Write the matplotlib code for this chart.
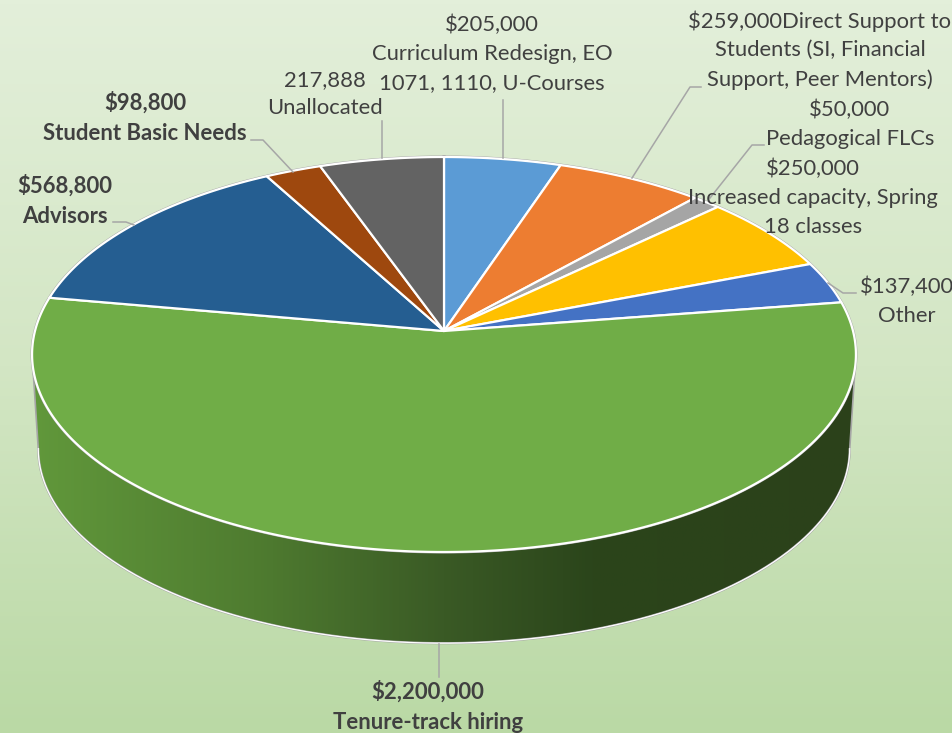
import numpy as np
import matplotlib
matplotlib.use("Agg")
import matplotlib.pyplot as plt
from matplotlib.colors import LinearSegmentedColormap
from matplotlib.patches import Polygon

names = ["Curriculum Redesign", "Direct Support", "Pedagogical FLCs", "Increased capacity",
         "Other", "Tenure-track hiring", "Advisors", "Student Basic Needs", "Unallocated"]
values = [205000, 259000, 50000, 250000, 137400, 2200000, 568800, 98800, 217888]
colors = ["#5B9BD5", "#ED7D31", "#A5A5A5", "#FFC000", "#4472C4", "#70AD47", "#255E91", "#9E480E", "#636363"]

labels = [
    ("$205,000\nCurriculum Redesign, EO\n1071, 1110, U-Courses", 492, 54, False),
    ("$259,000Direct Support to\nStudents (SI, Financial\nSupport, Peer Mentors)", 820, 50, False),
    ("$50,000\nPedagogical FLCs", 850, 124, False),
    ("$250,000\nIncreased capacity, Spring\n18 classes", 813, 198, False),
    ("$137,400\nOther", 907, 301, False),
    ("$2,200,000\nTenure-track hiring", 428, 707, True),
    ("$568,800\nAdvisors", 65, 201, True),
    ("$98,800\nStudent Basic Needs", 145, 118, True),
    ("217,888\nUnallocated", 325, 94, False),
]
leaders = [
    ([503, 503], [100, 158]),
    ([632, 690, 701], [178, 87, 87]),
    ([710, 752, 764], [198, 145, 145]),
    ([828, 843, 856], [283, 293, 293]),
    ([439, 439], [644, 677]),
    ([113, 126, 134], [222, 222, 225]),
    ([251, 263, 293], [140, 140, 172]),
    ([382, 382], [121, 158]),
]

W, H = 953, 733
fig = plt.figure(figsize=(W / 100, H / 100), dpi=100)
ax = fig.add_axes([0, 0, 1, 1])

# background gradient
bg = LinearSegmentedColormap.from_list("bg", ["#E3EFDA", "#D3E6C4", "#BAD9A5"])
gy, gx = np.mgrid[0:1:200j, 0:1:200j]
ax.imshow(np.clip(gy, 0, 1), cmap=bg, vmin=0, vmax=1,
          extent=[0, W, H, 0], aspect="auto", zorder=0)

# perspective projection of a unit disc
CX, CY_TOP, CY_BOT, A, B, K, SCALE_BOT = 444, 331, 425.5, 409, 194.7, 0.119, 0.985


def project(theta, r=1.0, bottom=False):
    u, v = r * np.sin(theta), r * np.cos(theta)
    s = 1 / (1 + K * v)
    if bottom:
        return CX + SCALE_BOT * A * u * s, CY_BOT - SCALE_BOT * B * v * s
    return CX + A * u * s, CY_TOP - B * v * s


# side wall, front part between the horizontal tangent points
t0 = np.arccos(-K)
front = np.linspace(t0, 2 * np.pi - t0, 400)
tx, ty = project(front)
bx, by = project(front, bottom=True)
side_xy = np.column_stack([np.r_[tx, bx[::-1]], np.r_[ty, by[::-1]]])
side = Polygon(side_xy, closed=True, fc="none", ec="none", zorder=2)
ax.add_patch(side)
grad = LinearSegmentedColormap.from_list(
    "side", [(0, "#61983B"), (0.27, "#4F7C30"), (0.5, "#3A5A25"), (0.68, "#2B451B"), (1, "#2B411A")])
im = ax.imshow(np.linspace(0, 1, 512)[None, :], cmap=grad, vmin=0, vmax=1,
               extent=[32, 856, 660, 340], aspect="auto", zorder=2)
im.set_clip_path(side)
ax.plot(bx, by, color="#A6A6A6", lw=1.6, zorder=3, solid_capstyle="round")
ax.plot(bx, by, color="#FFFFFF", lw=0.9, zorder=3.1)
for i in (0, -1):
    ax.plot([tx[i], bx[i]], [ty[i], by[i]], color="#A6A6A6", lw=1.2, zorder=3)

# top face
circle = np.linspace(0, 2 * np.pi, 720)
ox, oy = project(circle)
ax.plot(ox, oy, color="#A6A6A6", lw=2.2, zorder=3.5)
edges = np.r_[0, np.cumsum(values)] / np.sum(values) * 2 * np.pi
for start, stop, col in zip(edges[:-1], edges[1:], colors):
    th = np.linspace(start, stop, max(int((stop - start) * 120), 6))
    x, y = project(th)
    ax.add_patch(Polygon(np.column_stack([np.r_[CX, x], np.r_[CY_TOP, y]]), closed=True,
                         fc=col, ec="#FFFFFF", lw=1.6, joinstyle="round", zorder=4))

# leader lines
for lx, ly in leaders:
    ax.plot(lx, ly, color="#A6A6A6", lw=1.1, zorder=5)

# labels
for text, x, y, bold in labels:
    ax.text(x, y, text, ha="center", va="center", ma="center", family="Lato",
            fontsize=15.9 if bold else 15.8,
            fontweight="bold" if bold else "normal", color="#404040", linespacing=1.54, zorder=6)

ax.set_xlim(0, W)
ax.set_ylim(H, 0)
ax.axis("off")
fig.savefig("out.png", dpi=100)
